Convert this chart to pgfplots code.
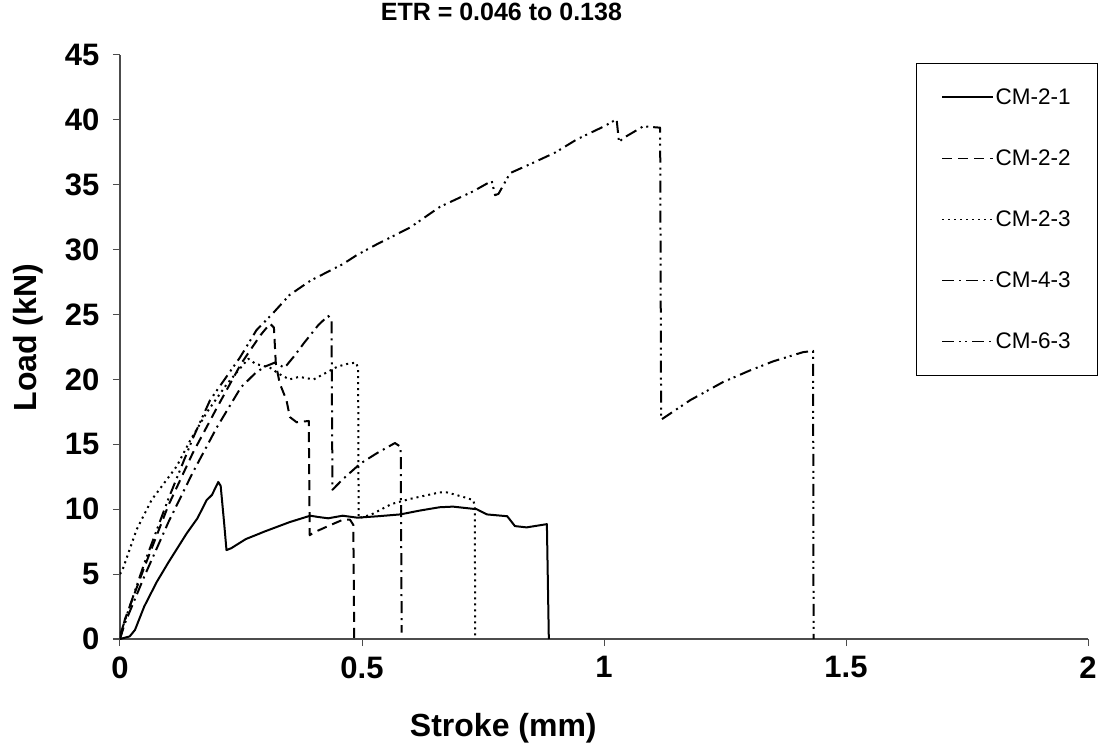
\documentclass[border=0pt]{standalone}
\usepackage{pgfplots}
\pgfplotsset{compat=1.18}
\usepackage{fontspec}
\setmainfont{Liberation Sans}

\begin{document}
\begin{tikzpicture}
\path[use as bounding box] (-120pt,-107pt) rectangle (982pt,639pt);
\begin{axis}[
  scale only axis, width=968pt, height=584pt,
  xmin=0, xmax=2, ymin=0, ymax=45,
  axis lines=left,
  axis line style={-, gray!60!black, line width=1.2pt},
  xtick={0,0.5,1,1.5,2}, xticklabels={0,0.5,1,1.5,2},
  ytick={0,5,...,45},
  tick align=outside, major tick length=7pt,
  tick style={gray!60!black, line width=1pt},
  /pgf/number format/assume math mode=true,
  ticklabel style={font=\bfseries\fontsize{31}{31}\selectfont},
  yticklabel style={xshift=-10pt},
  xticklabel style={yshift=-7pt},
  xlabel={Stroke (mm)},
  xlabel style={font=\bfseries\fontsize{32}{32}\selectfont, at={(axis description cs:0.396,-0.152)}, anchor=center},
  ylabel={Load (kN)},
  ylabel style={font=\bfseries\fontsize{32}{32}\selectfont, at={(axis description cs:-0.095,0.516)}, anchor=center},
  title={ETR = 0.046 to 0.138},
  title style={font=\bfseries\fontsize{25}{25}\selectfont, at={(axis description cs:0.394,1.063)}, anchor=center},
  legend style={at={(axis description cs:0.8223,0.9863)}, anchor=north west,
    draw=black, line width=0.8pt, font=\fontsize{22.5}{22.5}\selectfont,
    row sep=40pt, inner xsep=25pt, inner ysep=23pt},
  legend cell align=left,
  legend image code/.code={\draw[#1, line width=1.3pt] (0pt,0pt) -- (51pt,0pt);},
  every axis plot/.append style={black, line width=2pt, line join=round},
]
% CM-2-1
\addplot[solid] coordinates {
(0,0) (0.02,0.2) (0.031,0.7) (0.05,2.5) (0.076,4.4) (0.1,5.9) (0.138,8.15)
(0.16,9.3) (0.179,10.7) (0.19,11.1) (0.203,12.1) (0.208,11.8) (0.215,9.0)
(0.22,6.85) (0.23,7.0) (0.26,7.7) (0.3,8.3) (0.35,9.0) (0.393,9.5) (0.41,9.4)
(0.43,9.3) (0.46,9.5) (0.49,9.35) (0.53,9.45) (0.579,9.6) (0.62,9.9)
(0.66,10.15) (0.688,10.2) (0.737,10.0) (0.758,9.6) (0.80,9.46) (0.816,8.7)
(0.84,8.6) (0.882,8.85) (0.886,0)
};
\addlegendentry{CM-2-1}
% CM-2-2
\addplot[dash pattern=on 10pt off 6pt] coordinates {
(0,0) (0.01,1.5) (0.05,5.5) (0.1,10.3) (0.15,14.3) (0.2,17.8) (0.25,21.2)
(0.29,23.4) (0.31,24.3) (0.318,24.0) (0.322,21.2) (0.33,19.7) (0.344,18.4)
(0.351,17.1) (0.365,16.7) (0.39,16.8) (0.392,8.0) (0.40,8.2) (0.43,8.7)
(0.461,9.2) (0.475,9.2) (0.482,8.8) (0.484,0)
};
\addlegendentry{CM-2-2}
% CM-2-3
\addplot[dash pattern=on 2pt off 4pt] coordinates {
(0,5.0) (0.005,5.3) (0.034,8.4) (0.065,10.7) (0.117,13.3) (0.145,15.3)
(0.18,17.5) (0.22,19.6) (0.265,21.6) (0.28,21.2) (0.31,20.9) (0.33,20.4)
(0.35,20.0) (0.37,20.2) (0.40,20.0) (0.42,20.4) (0.45,21.0) (0.47,21.2)
(0.488,21.3) (0.492,20.8) (0.493,9.3) (0.52,9.6) (0.561,10.4) (0.60,10.8)
(0.661,11.3) (0.675,11.3) (0.709,10.95) (0.73,10.7) (0.733,10.2) (0.734,0)
};
\addlegendentry{CM-2-3}
% CM-4-3
\addplot[dash pattern=on 12pt off 5pt on 2pt off 5pt] coordinates {
(0,0) (0.01,1.2) (0.05,4.8) (0.1,9.0) (0.15,12.8) (0.2,16.3) (0.25,19.4)
(0.28,20.5) (0.30,21.0) (0.32,21.3) (0.34,20.9) (0.36,21.8) (0.38,22.8)
(0.41,24.2) (0.43,24.9) (0.437,24.6) (0.439,11.5) (0.46,12.3) (0.496,13.5)
(0.53,14.3) (0.568,15.1) (0.58,14.8) (0.582,0.5)
};
\addlegendentry{CM-4-3}
% CM-6-3
\addplot[dash pattern=on 12pt off 5pt on 2pt off 4pt on 2pt off 5pt] coordinates {
(0,0.3) (0.02,2.5) (0.05,5.8) (0.1,10.8) (0.151,15.5) (0.186,18.4)
(0.248,21.7) (0.282,23.8) (0.316,25.1) (0.35,26.5) (0.393,27.6) (0.461,28.9)
(0.49,29.6) (0.53,30.4) (0.599,31.7) (0.661,33.3) (0.73,34.5) (0.768,35.3)
(0.775,34.2) (0.782,34.3) (0.806,35.9) (0.854,36.7) (0.9,37.5) (0.944,38.5)
(1.0,39.5) (1.026,40.05) (1.031,38.3) (1.04,38.6) (1.081,39.5) (1.116,39.4)
(1.118,16.9) (1.13,17.2) (1.178,18.4) (1.246,19.8) (1.302,20.7) (1.35,21.4)
(1.411,22.1) (1.432,22.2) (1.433,0)
};
\addlegendentry{CM-6-3}
\end{axis}
\end{tikzpicture}
\end{document}
